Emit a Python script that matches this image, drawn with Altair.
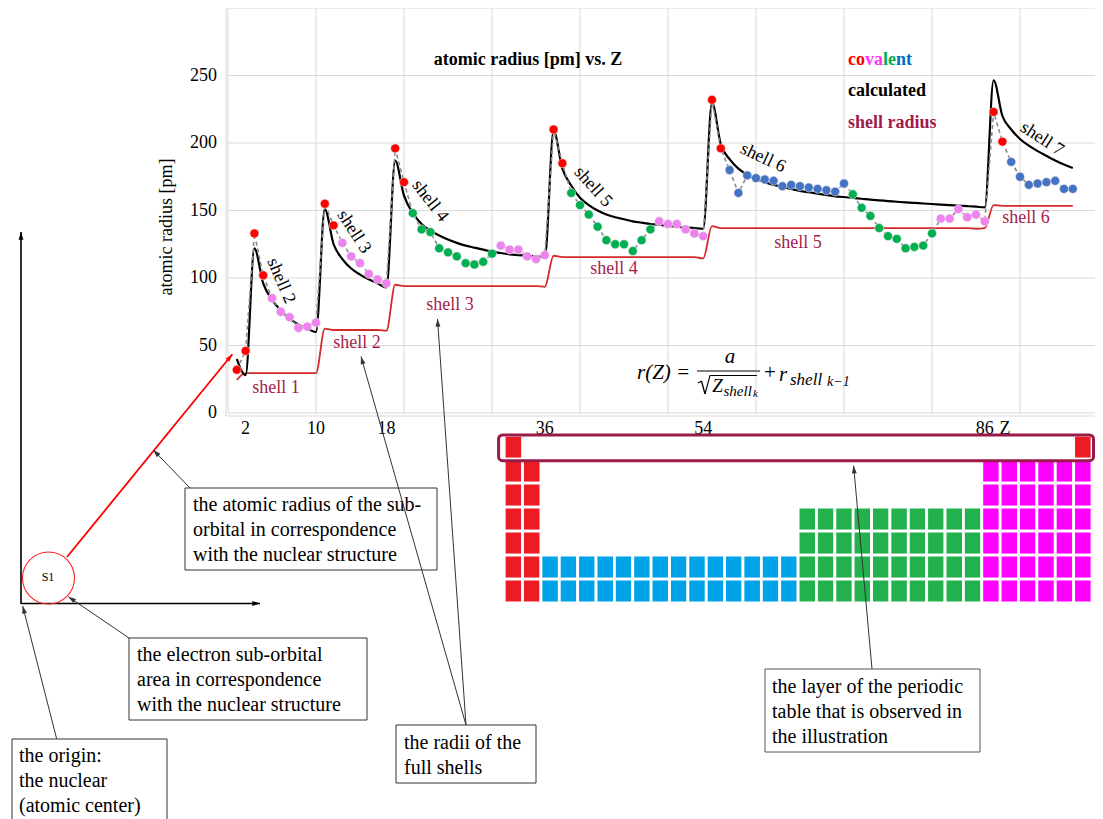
import math
import altair as alt
import pandas as pd

# ---------------- data ----------------
Z = list(range(1, 97))
covalent_pm = [32, 46, 133, 102, 85, 75, 71, 63, 64, 67,
               155, 139, 126, 116, 111, 103, 99, 96,
               196, 171, 148, 136, 134, 122, 119, 116, 111, 110, 112, 118, 124, 121, 121, 116, 114, 117,
               210, 185, 163, 154, 147, 138, 128, 125, 125, 120, 128, 136, 142, 140, 140, 136, 133, 131,
               232, 196, 180, 163, 176, 174, 173, 172, 168, 169, 168, 167, 166, 165, 164, 170,
               162, 152, 146, 137, 131, 129, 122, 123, 124, 133, 144, 144, 151, 145, 147, 142,
               223, 201, 186, 175, 169, 170, 171, 172, 166, 166]
calculated_pm = [40, 28,
                 122, 96, 84, 76, 70, 65.5, 62.5, 60,
                 151, 125, 114, 107, 102.5, 99, 96, 93,
                 187, 161, 148, 140, 135, 131.5, 128.5, 126, 124, 122.5, 121, 119.5, 118.5, 117.5, 117, 116.5, 116, 115.5,
                 209, 181, 168.5, 159.5, 154, 150, 147, 145, 143.5, 142, 141, 140, 139.5, 138.5, 138, 137.5, 137, 136.5,
                 230, 199, 188, 181, 176.5, 173.5, 171, 169, 167.5, 166, 164.5, 163.5, 162.5, 161.5, 160.5, 160,
                 159.3, 158.7, 158, 157.5, 157, 156.5, 156, 155.6, 155.2, 154.8, 154.4, 154, 153.6, 153.2, 152.8, 152.3,
                 246.5, 220, 210, 203, 198, 194, 190.5, 187, 184, 181.5]
shell_radius_pm = [24.5, 29.5, 29.5, 29.5, 29.5, 29.5, 29.5, 29.5, 29.5, 29.5,
                   62.5, 61.5, 61.5, 61.5, 61.5, 61.5, 61.5, 61,
                   95, 94, 94, 94, 94, 94, 94, 94, 94, 94, 94, 94, 94, 94, 94, 94, 94, 93.5,
                   116.5, 115.5, 115.5, 115.5, 115.5, 115.5, 115.5, 115.5, 115.5, 115.5, 115.5, 115.5, 115.5, 115.5, 115.5, 115.5, 115.5, 114.5,
                   138.5, 137, 137, 137, 137, 137, 137, 137, 137, 137, 137, 137, 137, 137, 137, 137,
                   137, 137, 137, 137, 137, 137, 137, 137, 137, 137, 137, 137, 137, 137, 136.5, 137,
                   154, 153.5, 153.5, 153.5, 153.5, 153.5, 153.5, 153.5, 153.5, 153.5]
s_block_Z = [1, 2, 3, 4, 11, 12, 19, 20, 37, 38, 55, 56, 87, 88]
d_block_Z = list(range(21, 31)) + list(range(39, 49)) + list(range(71, 81))
f_block_Z = list(range(57, 71)) + list(range(89, 97))
block_names = ["s", "p", "d", "f"]
point_colors = ["#FF0000", "#EE82EE", "#00B050", "#4472C4"]
table_colors = ["#ED1C24", "#FF00FF", "#22B14C", "#00A2E8"]

x_tick_values = [2, 10, 18, 36, 54, 86]
y_tick_values = [0, 50, 100, 150, 200, 250]
x_grid_values = [0, 10, 20, 30, 40, 50, 60, 70, 80, 90]
y_grid_values = [0, 50, 100, 150, 200, 250, 300]

# periodic table, long form with 32 columns
block_columns = {"s": (0, 2), "f": (2, 16), "d": (16, 26), "p": (26, 32)}
block_first_period = {"s": 2, "f": 6, "d": 4, "p": 2}
period1_cells = [(0, "s"), (31, "s")]
n_periods = 7

# ---------------- tables built from the data ----------------
def block_of(z):
    if z in s_block_Z:
        return "s"
    if z in d_block_Z:
        return "d"
    if z in f_block_Z:
        return "f"
    return "p"

df = pd.DataFrame({"Z": Z, "cov": covalent_pm, "calc": calculated_pm,
                   "shell": shell_radius_pm, "block": [block_of(z) for z in Z]})

cells = []
for col, b in period1_cells:
    cells.append({"c0": col, "c1": col + 1, "r0": 0, "r1": 1, "block": b})
for b, (c_start, c_end) in block_columns.items():
    for period in range(block_first_period[b], n_periods + 1):
        for col in range(c_start, c_end):
            cells.append({"c0": col, "c1": col + 1, "r0": period - 1, "r1": period, "block": b})
cells_df = pd.DataFrame(cells)

# ---------------- helpers ----------------
OFF = 8
one = pd.DataFrame({"k": [0]})
SERIF = "Liberation Serif"

xs = alt.Scale(domain=[0, 100], range=[220, 1100], nice=False, zero=False)
ys = alt.Scale(domain=[0, 300], range=[405, 0], nice=False, zero=False)


def T(x, y, s, size=18, color="black", weight="normal", align="left", angle=0, style="normal"):
    kw = dict(text=s, fontSize=size, fill=color, fontWeight=weight, align=align,
              baseline="middle", font=SERIF)
    if angle:
        kw["angle"] = angle
    if style != "normal":
        kw["fontStyle"] = style
    return alt.Chart(one).mark_text(**kw).encode(x=alt.value(x - OFF), y=alt.value(y - OFF))


def seg(x1, y1, x2, y2, color="black", width=1.0):
    return alt.Chart(one).mark_rule(color=color, strokeWidth=width).encode(
        x=alt.value(x1 - OFF), y=alt.value(y1 - OFF), x2=alt.value(x2 - OFF), y2=alt.value(y2 - OFF))


def head(x1, y1, x2, y2, color="black", size=49):
    ang = math.degrees(math.atan2(x2 - x1, -(y2 - y1))) % 360
    return alt.Chart(one).mark_point(shape="M0,0L0.7,2.2L-0.7,2.2Z", filled=True, fill=color,
                                     strokeWidth=0, size=size, angle=ang, opacity=1).encode(
        x=alt.value(x2 - OFF), y=alt.value(y2 - OFF))


def arrow(x1, y1, x2, y2, color="black", width=1.0):
    return [seg(x1, y1, x2, y2, color, width), head(x1, y1, x2, y2, color)]


def box(x1, y1, x2, y2, stroke="#333333", width=1.0, fill="white", radius=0):
    kw = dict(fill=fill, stroke=stroke, strokeWidth=width)
    if radius:
        kw["cornerRadius"] = radius
    if fill == "none":
        kw["fill"] = "white"
        kw["fillOpacity"] = 0
    return alt.Chart(one).mark_rect(**kw).encode(
        x=alt.value(x1 - OFF), y=alt.value(y1 - OFF), x2=alt.value(x2 - OFF), y2=alt.value(y2 - OFF))


layers = []

# ---------------- plot area: frame and grid ----------------
layers.append(box(226, 7, 1110, 416, stroke="#D9D9D9", width=1, fill="none"))
layers.append(alt.Chart(pd.DataFrame({"g": x_grid_values})).mark_rule(color="#D9D9D9", strokeWidth=1).encode(
    x=alt.X("g:Q", scale=xs, axis=None), y=alt.value(0), y2=alt.value(405)))
layers.append(alt.Chart(pd.DataFrame({"g": y_grid_values})).mark_rule(color="#D9D9D9", strokeWidth=1).encode(
    y=alt.Y("g:Q", scale=ys, axis=None), x=alt.value(220), x2=alt.value(1100)))

# ---------------- series ----------------
base = alt.Chart(df)
layers.append(base.mark_line(color="#D42A2A", strokeWidth=1.8, interpolate="monotone").encode(
    x=alt.X("Z:Q", scale=xs, axis=None), y=alt.Y("shell:Q", scale=ys, axis=None)))
layers.append(base.mark_line(color="black", strokeWidth=2.2, interpolate="monotone").encode(
    x=alt.X("Z:Q", scale=xs, axis=None), y=alt.Y("calc:Q", scale=ys, axis=None)))
layers.append(base.mark_line(color="#8C8C8C", strokeWidth=1.6, strokeDash=[4, 3]).encode(
    x=alt.X("Z:Q", scale=xs, axis=None), y=alt.Y("cov:Q", scale=ys, axis=None)))
layers.append(base.mark_circle(size=80, opacity=1, stroke="#E6E6E6", strokeWidth=0.6).encode(
    x=alt.X("Z:Q", scale=xs, axis=None), y=alt.Y("cov:Q", scale=ys, axis=None),
    color=alt.Color("block:N", scale=alt.Scale(domain=block_names, range=point_colors), legend=None)))

# ---------------- axis labels ----------------
layers.append(alt.Chart(pd.DataFrame({"v": x_tick_values})).mark_text(
    fontSize=18, font=SERIF, baseline="middle", align="center").encode(
    x=alt.X("v:Q", scale=xs, axis=None), y=alt.value(429 - OFF), text=alt.Text("v:Q", format="d")))
layers.append(T(1005, 429, "Z", align="center"))
layers.append(alt.Chart(pd.DataFrame({"v": y_tick_values})).mark_text(
    fontSize=18, font=SERIF, baseline="middle", align="right").encode(
    y=alt.Y("v:Q", scale=ys, axis=None), x=alt.value(217 - OFF), text=alt.Text("v:Q", format="d")))
layers.append(T(167, 227, "atomic radius [pm]", align="center", angle=270))

# ---------------- title and legend ----------------
layers.append(T(528, 60, "atomic radius [pm] vs. Z", weight="bold", align="center"))
layers.append(T(848, 60, "co", color="#FF0000", weight="bold"))
layers.append(T(865, 60, "va", color="#FF33FF", weight="bold"))
layers.append(T(883, 60, "le", color="#00B050", weight="bold"))
layers.append(T(896, 60, "nt", color="#0070C0", weight="bold"))
layers.append(T(848, 91, "calculated", weight="bold"))
layers.append(T(848, 123, "shell radius", color="#A01A4A", weight="bold"))

# ---------------- shell labels ----------------
CRIM = "#A51C4B"
for (sx, sy, s) in [(276, 388, "shell 1"), (357, 343, "shell 2"), (450, 305, "shell 3"),
                    (614, 269, "shell 4"), (798, 243, "shell 5"), (1026, 218, "shell 6")]:
    layers.append(T(sx, sy, s, color=CRIM, align="center"))
for (sx, sy, s, a) in [(281, 281, "shell 2", 67), (354, 232, "shell 3", 57), (430, 201, "shell 4", 52),
                       (593, 187, "shell 5", 48), (763, 158, "shell 6", 25), (1042, 139, "shell 7", 33)]:
    layers.append(T(sx, sy, s, align="center", angle=a))

# ---------------- equation ----------------
layers.append(T(637, 373, "r(Z) =", size=21, style="italic"))
layers.append(T(730, 357, "a", size=21, style="italic", align="center"))
layers.append(seg(697, 371, 760, 371, width=1.2))
layers.append(seg(698, 383, 701.5, 381, width=1.1))
layers.append(seg(701.5, 381, 705, 394, width=1.3))
layers.append(seg(705, 394, 710, 375.5, width=1.1))
layers.append(seg(710, 375.5, 757, 375.5, width=1.1))
layers.append(T(717.5, 386, "Z", size=19, style="italic", align="center"))
layers.append(T(723.5, 391, "shell", size=15, style="italic"))
layers.append(T(753, 394, "k", size=11, style="italic"))
layers.append(T(770, 373, "+", size=21, align="center"))
layers.append(T(779, 375, "r", size=21, style="italic"))
layers.append(T(790, 380, "shell", size=17, style="italic"))
layers.append(T(827, 382, "k\u22121", size=14, style="italic"))

# ---------------- left sketch ----------------
layers += arrow(21, 604, 21, 232, width=1.6)
layers += arrow(21, 603.5, 260, 603.5, width=1.6)
layers.append(alt.Chart(one).mark_point(shape="circle", size=2704, filled=False, color="#FF2020",
                                        strokeWidth=1.1, opacity=1).encode(
    x=alt.value(48.5 - OFF), y=alt.value(578 - OFF)))
layers.append(T(48, 577, "S1", size=12, align="center"))
layers += arrow(67, 557, 232.3, 354.3, color="#FF0000", width=1.8)

# ---------------- periodic table ----------------
layers.append(alt.Chart(cells_df).mark_rect(stroke="white", strokeWidth=2.8).encode(
    x=alt.X("c0:Q", scale=alt.Scale(domain=[0, 32], range=[496.2, 1084.0], nice=False, zero=False), axis=None),
    x2="c1:Q",
    y=alt.Y("r0:Q", scale=alt.Scale(domain=[0, 7], range=[427.3, 595.0], nice=False, zero=False), axis=None),
    y2="r1:Q",
    color=alt.Color("block:N", scale=alt.Scale(domain=block_names, range=table_colors), legend=None)))
layers.append(box(498.6, 435, 1093.5, 460.7, stroke="#9A1A4A", width=3, fill="none", radius=4))

# ---------------- annotation boxes ----------------
layers.append(box(185, 488, 437, 570))
for i, s in enumerate(["the atomic radius of the sub-", "orbital in correspondence", "with the nuclear structure"]):
    layers.append(T(193, 505 + 25 * i, s, size=20))
layers.append(box(129, 638, 367, 720))
for i, s in enumerate(["the electron sub-orbital", "area in correspondence", "with the nuclear structure"]):
    layers.append(T(137, 655 + 25 * i, s, size=20))
layers.append(box(12, 739, 167, 830))
for i, s in enumerate(["the origin:", "the nuclear", "(atomic center)"]):
    layers.append(T(19, 756 + 25 * i, s, size=20))
layers.append(box(396, 725, 536, 783))
for i, s in enumerate(["the radii of the", "full shells"]):
    layers.append(T(404, 743 + 25 * i, s, size=20))
layers.append(box(765, 669, 980, 752, stroke="#555555"))
for i, s in enumerate(["the layer of the periodic", "table that is observed in", "the illustration"]):
    layers.append(T(772, 687 + 25 * i, s, size=20))

# ---------------- annotation arrows ----------------
layers += arrow(190, 488, 153.3, 450, color="#333333")
layers += arrow(129, 638, 68.3, 596.7, color="#333333")
layers += arrow(56.7, 739, 22.7, 606, color="#333333")
layers += arrow(466, 725, 361, 356.5, color="#333333")
layers += arrow(466, 725, 437.5, 319, color="#333333")
layers += arrow(872, 669, 853.6, 465.7, color="#333333")

chart = alt.layer(*layers).resolve_scale(
    x="independent", y="independent", color="independent"
).properties(
    width=1087, height=811, padding=0, autosize=alt.AutoSizeParams(type="none")
).configure_view(stroke=None)

chart.save("out.html", embed_options={"renderer": "svg", "actions": False})
